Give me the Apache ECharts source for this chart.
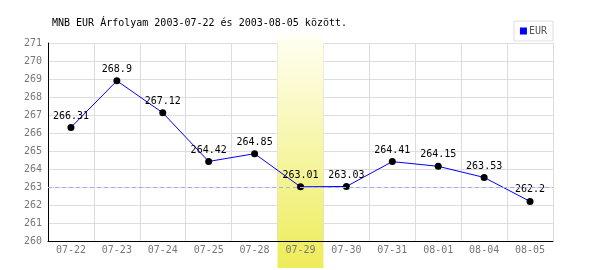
<!DOCTYPE html>
<html><head><meta charset="utf-8">
<script src="https://cdn.jsdelivr.net/npm/echarts@6/dist/echarts.min.js"></script>
<style>html,body{margin:0;padding:0;background:#fff}#c{width:600px;height:270px}</style>
</head><body><div id="c"></div>
<script>
const categories = ['07-22','07-23','07-24','07-25','07-28','07-29','07-30','07-31','08-01','08-04','08-05'];
const eurValues = [266.31, 268.9, 267.12, 264.42, 264.85, 263.01, 263.03, 264.41, 264.15, 263.53, 262.2];
const highlightDay = '07-29';
const referenceLevel = 263;
const yMin = 260, yMax = 271, yStep = 1;
const titleText = 'MNB EUR Árfolyam 2003-07-22 és 2003-08-05 között.';
const seriesName = 'EUR';

const font = 'DejaVu Sans Mono';
const bandData = categories.map(c => c === highlightDay ? 1 : null);

const chart = echarts.init(document.getElementById('c'), null, {renderer: 'canvas'});
chart.setOption({
  animation: false,
  backgroundColor: '#fff',
  title: {text: titleText, left: 47, top: 13, textStyle: {fontFamily: font, fontSize: 10, fontWeight: 'normal', color: '#000'}},
  legend: {
    data: [{name: seriesName, icon: 'rect', itemStyle: {color: '#0000ff'}}], right: 47, top: 21,
    itemWidth: 7, itemHeight: 7, itemGap: 2, padding: [5, 6, 5, 6],
    borderColor: '#ddd', borderWidth: 1,
    textStyle: {fontFamily: font, fontSize: 10, color: '#555', padding: [0,0,0,-3]}
  },
  grid: [
    {left: 48, right: 47, top: 43, bottom: 29},
    {left: 48, right: 47, top: 35, bottom: 2}
  ],
  xAxis: [
    {type: 'category', gridIndex: 0, data: categories, boundaryGap: true, z: 0,
     axisLine: {show: false}, axisTick: {show: false}, axisLabel: {show: false},
     splitLine: {show: true, interval: 0, lineStyle: {color: '#ddd', width: 1}}},
    {type: 'category', gridIndex: 0, data: categories, position: 'bottom', z: 5,
     axisLine: {show: true, onZero: false, lineStyle: {color: '#000', width: 1}}, axisTick: {show: false},
     axisLabel: {interval: 0, fontFamily: font, fontSize: 10, color: '#777', margin: 4},
     splitLine: {show: false}},
    {type: 'category', gridIndex: 1, data: categories, show: false}
  ],
  yAxis: [
    {type: 'value', gridIndex: 0, min: yMin, max: yMax, interval: yStep, z: 0,
     axisLine: {show: true, lineStyle: {color: '#000', width: 1}}, axisTick: {show: false},
     axisLabel: {fontFamily: font, fontSize: 10, color: '#777', margin: 6},
     splitLine: {show: true, lineStyle: {color: '#ddd', width: 1}}},
    {type: 'value', gridIndex: 1, min: 0, max: 1, show: false}
  ],
  series: [
    {type: 'bar', xAxisIndex: 2, yAxisIndex: 1, data: bandData, barWidth: '100%', z: 1, silent: true,
     itemStyle: {color: new echarts.graphic.LinearGradient(0, 0, 0, 1, [
       {offset: 0, color: '#fffff4'}, {offset: 1, color: '#eeec58'}])}},
    {type: 'line', name: seriesName, xAxisIndex: 0, yAxisIndex: 0, data: eurValues, z: 4,
     color: '#0000ff',
     lineStyle: {color: '#0000ff', width: 1},
     symbol: 'circle', symbolSize: 7,
     itemStyle: {color: '#000'},
     label: {show: true, position: 'top', distance: 3, fontFamily: font, fontSize: 10, color: '#000'},
     markLine: {silent: true, symbol: ['none','none'], label: {show: false},
       lineStyle: {color: '#a8a8ee', type: [4, 3], width: 1},
       data: [{yAxis: referenceLevel}]}}
  ]
});
</script></body></html>
